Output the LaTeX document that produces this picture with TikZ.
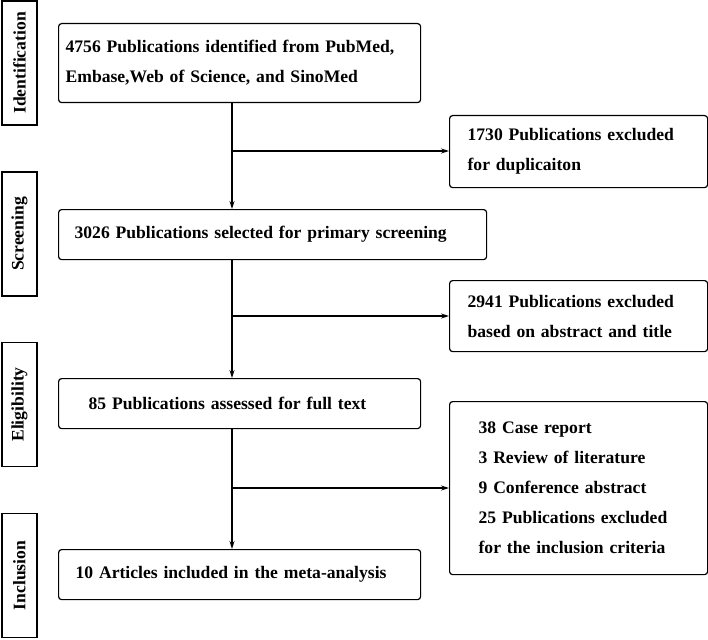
\documentclass[tikz,border=0pt]{standalone}
\usepackage{fontspec}
\setmainfont{Liberation Serif}
\usetikzlibrary{arrows.meta,positioning}

\begin{document}
\begin{tikzpicture}[
    x=1pt, y=-1pt,
    every node/.style={font=\fontsize{17.6}{30}\selectfont\bfseries},
    stage/.style={draw, line width=1.5pt, minimum width=124pt, minimum height=35pt, rotate=90, inner sep=0pt},
    box/.style={draw, line width=1.2pt, rounded corners=3pt, align=left, anchor=north west, inner ysep=0pt},
    link/.style={-{Stealth[length=8pt,width=5pt]}, line width=1.1pt}
]
\useasboundingbox (0,0) rectangle (708,639);

% stages on the left
\node[stage] (sid) at (19.5,63) {Identification};
\node[stage] (sscr) at (19.5,234) {Screening};
\node[stage] (selig) at (19.5,404.5) {Eligibility};
\node[stage] (sincl) at (19.5,575.5) {Inclusion};

% main flow
\node[box, minimum width=362pt, minimum height=79pt, inner xsep=7pt, text width=348pt] (ident) at (58,23) {
4756 Publications identified from PubMed,\\
Embase,Web of Science, and SinoMed
};
\node[box, minimum width=428pt, minimum height=50pt, inner xsep=16pt, text width=396pt] (scr) at (58,209) {
3026 Publications selected for primary screening
};
\node[box, minimum width=362pt, minimum height=50pt, inner xsep=30pt, text width=302pt] (elig) at (58,378) {
85 Publications assessed for full text
};
\node[box, minimum width=362pt, minimum height=50pt, inner xsep=17pt, text width=328pt] (incl) at (58,549) {
10 Articles included in the meta-analysis
};

% exclusions
\node[box, minimum width=258pt, minimum height=72pt, inner xsep=18pt, text width=222pt] (ex1) at (449,115) {
1730 Publications excluded\\
for duplicaiton
};
\node[box, minimum width=258pt, minimum height=71pt, inner xsep=18pt, text width=222pt] (ex2) at (449,280) {
2941 Publications excluded\\
based on abstract and title
};
\node[box, minimum width=258pt, minimum height=173pt, inner xsep=29pt, text width=200pt] (ex3) at (449,401) {
38 Case report\\
3 Review of literature\\
9 Conference abstract\\
25 Publications excluded\\
for the inclusion criteria
};

\coordinate (j1) at (232,151);
\coordinate (j2) at (232,316);
\coordinate (j3) at (232,488);

\draw[link] (ident.south -| j1) -- (scr.north -| j1);
\draw[link] (scr.south -| j2) -- (elig.north -| j2);
\draw[link] (elig.south -| j3) -- (incl.north -| j3);
\draw[link] (j1) -- (ex1.west |- j1);
\draw[link] (j2) -- (ex2.west |- j2);
\draw[link] (j3) -- (ex3.west |- j3);

\end{tikzpicture}
\end{document}
